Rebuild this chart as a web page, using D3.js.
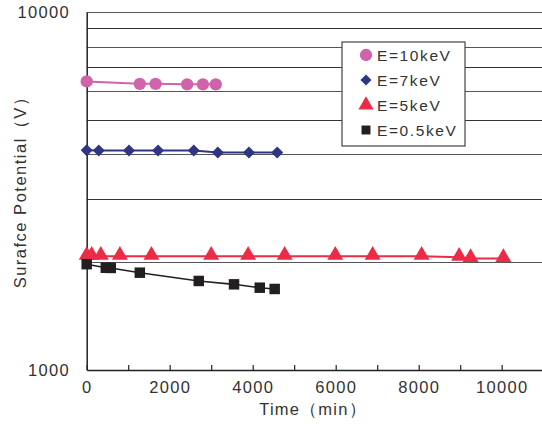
<!DOCTYPE html>
<html>
<head>
<meta charset="utf-8">
<script src="https://cdn.jsdelivr.net/npm/d3@7"></script>
<style>
  body { margin: 0; background: #fff; }
  svg { display: block; font-family: Arial, "Liberation Sans", sans-serif; }
</style>
</head>
<body>
<svg id="chart" width="542" height="429"></svg>
<script>
// data (time in min, potential in V)
const timeE10 = [0, 1280, 1660, 2420, 2800, 3110]
const potE10 = [6400, 6300, 6300, 6280, 6280, 6280]
const timeE7 = [0, 290, 1020, 1720, 2580, 3160, 3910, 4590]
const potE7 = [4110, 4100, 4100, 4100, 4100, 4050, 4050, 4050]
const timeE5 = [0, 120, 340, 800, 1560, 3000, 3890, 4770, 5990, 6890, 8070, 8975, 9250, 10040]
const potE5 = [2080, 2080, 2080, 2080, 2080, 2080, 2080, 2080, 2080, 2080, 2080, 2065, 2050, 2050]
const timeE05 = [0, 460, 580, 1280, 2700, 3550, 4170, 4530]
const potE05 = [1975, 1930, 1928, 1870, 1773, 1735, 1698, 1684]
const xTicks = [0, 1000, 2000, 3000, 4000, 5000, 6000, 7000, 8000, 9000, 10000, 11000]
const xLabels = [0, 2000, 4000, 6000, 8000, 10000]
const yGrid = [2000, 3000, 4000, 5000, 6000, 7000, 8000, 9000, 10000]
const yLabels = [1000, 10000]

const series = [
    { name: 'E=10keV', t: timeE10, v: potE10, color: '#d064aa', shape: 'circle' },
    { name: 'E=7keV', t: timeE7, v: potE7, color: '#2e3585', shape: 'diamond' },
    { name: 'E=5keV', t: timeE5, v: potE5, color: '#ec2b47', shape: 'triangle' },
    { name: 'E=0.5keV', t: timeE05, v: potE05, color: '#231f20', shape: 'square' }
]

const svg = d3.select('#chart')
const plotLeft = 86.7
const plotTop = 12
const plotBottom = 370
const textColor = '#333'

const x = d3.scaleLinear().domain([0, 12000]).range([plotLeft, plotLeft + 498])
const y = d3.scaleLog().domain([1000, 10000]).range([plotBottom, plotTop])

// gridlines
svg.append('g')
    .selectAll('line')
    .data(yGrid)
    .enter()
    .append('line')
    .attr('x1', plotLeft)
    .attr('x2', 542)
    .attr('y1', d => Math.round(y(d)) + 0.5)
    .attr('y2', d => Math.round(y(d)) + 0.5)
    .attr('stroke', (d, i) => i % 2 ? '#333' : '#555')
    .attr('stroke-width', 1.2)

// x axis
const xAxis = svg.append('g')
    .attr('transform', `translate(0, ${plotBottom})`)
    .call(d3.axisBottom(x)
        .tickValues(xTicks)
        .tickSizeInner(-5)
        .tickSizeOuter(0)
        .tickPadding(11.6)
        .tickFormat(d => xLabels.includes(d) ? d : ''))
xAxis.select('.domain').attr('stroke', '#222').attr('stroke-width', 1.5)
xAxis.selectAll('.tick line').attr('stroke', '#222').attr('stroke-width', 1.2)
xAxis.selectAll('text')
    .attr('font-size', 16.5)
    .attr('letter-spacing', '1.3px')
    .attr('fill', textColor)

// y axis
const yAxis = svg.append('g')
    .attr('transform', `translate(${plotLeft}, 0)`)
    .call(d3.axisLeft(y)
        .tickValues(yLabels)
        .tickSize(0)
        .tickPadding(16.7)
        .tickFormat(d => d))
yAxis.select('.domain').attr('stroke', '#222').attr('stroke-width', 1.5)
yAxis.selectAll('text')
    .attr('font-size', 16.5)
    .attr('letter-spacing', '1.3px')
    .attr('fill', textColor)

// axis titles
svg.append('text')
    .attr('x', 313)
    .attr('y', 415)
    .attr('text-anchor', 'middle')
    .attr('font-size', 16.5)
    .attr('letter-spacing', '1.2px')
    .attr('fill', textColor)
    .text('Time（min）')

svg.append('text')
    .attr('transform', 'translate(26, 188) rotate(-90)')
    .attr('text-anchor', 'middle')
    .attr('font-size', 16.5)
    .attr('letter-spacing', '1.5px')
    .attr('fill', textColor)
    .text('Surafce Potential（V）')

const symbolFor = (shape, size) => {
    const types = { circle: d3.symbolCircle, diamond: d3.symbolSquare, triangle: d3.symbolTriangle, square: d3.symbolSquare }
    return d3.symbol().type(types[shape]).size(size)()
}
const turn = shape => shape === 'diamond' ? ' rotate(45)' : ''
const sizes = { circle: 120, diamond: 72, triangle: 110, square: 110 }

const line = d3.line()
    .x(d => x(d[0]))
    .y(d => y(d[1]))

series.forEach(s => {
    const pts = s.t.map((t, i) => [t, s.v[i]])
    svg.append('path')
        .datum(pts)
        .attr('d', line)
        .attr('fill', 'none')
        .attr('stroke', s.color)
        .attr('stroke-width', s.shape === 'square' ? 1.6 : 2)

    svg.append('g')
        .selectAll('path')
        .data(pts)
        .enter()
        .append('path')
        .attr('d', symbolFor(s.shape, sizes[s.shape]))
        .attr('transform', d => `translate(${x(d[0])}, ${y(d[1]) + (s.shape === 'triangle' ? -1 : 0)})${turn(s.shape)}`)
        .attr('fill', s.color)
})

// legend
const legend = svg.append('g')
    .attr('transform', 'translate(342, 42)')
legend.append('rect')
    .attr('width', 123)
    .attr('height', 104)
    .attr('fill', '#fff')
    .attr('stroke', '#444')
    .attr('stroke-width', 1.2)

const lg = legend.selectAll('g')
    .data(series)
    .enter()
    .append('g')
    .attr('transform', (d, i) => `translate(0, ${13 + i * 25})`)

lg.append('path')
    .attr('d', d => symbolFor(d.shape, { circle: 120, diamond: 60, triangle: 100, square: 80 }[d.shape]))
    .attr('transform', d => `translate(24, 0)${turn(d.shape)}`)
    .attr('fill', d => d.color)

lg.append('text')
    .text(d => d.name)
    .attr('x', 35)
    .attr('y', 5.5)
    .attr('font-size', 15.5)
    .attr('letter-spacing', '1.6px')
    .attr('fill', textColor)
</script>
</body>
</html>
